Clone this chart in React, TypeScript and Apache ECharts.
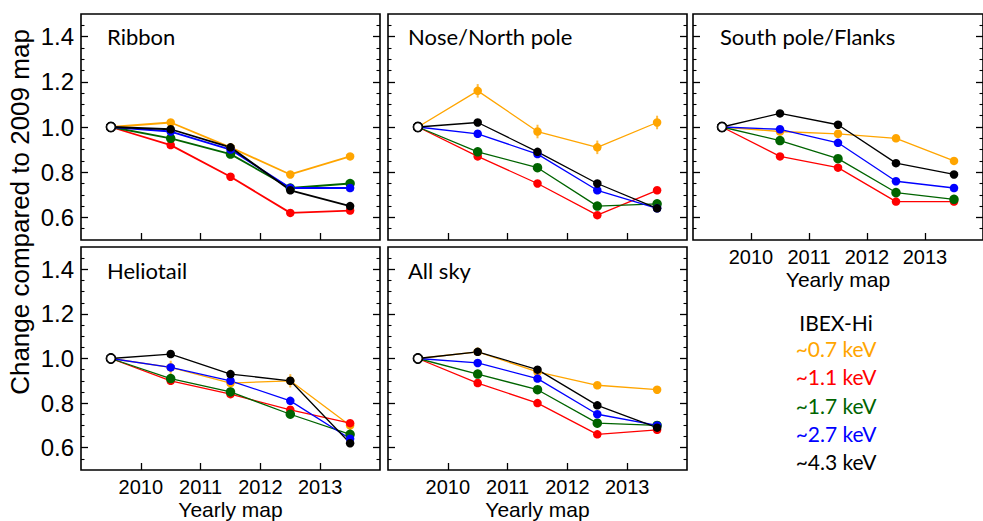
import React, { useEffect, useRef } from "react";
import * as echarts from "echarts";

// ---- data ----
const years = [2009.5, 2010.5, 2011.5, 2012.5, 2013.5];
const xTickValues = [2010, 2011, 2012, 2013];
const yTickValues = [0.6, 0.8, 1.0, 1.2, 1.4];
const yMinorTickValues = [0.55, 0.65, 0.7, 0.75, 0.85, 0.9, 0.95, 1.05, 1.1, 1.15, 1.25, 1.3, 1.35, 1.45];
const energyLabels = ["~0.7 keV", "~1.1 keV", "~1.7 keV", "~2.7 keV", "~4.3 keV"];
const energyColors = ["#FFA500", "#FF0000", "#006400", "#0000FF", "#000000"];
const panelNames = ["Ribbon", "Nose/North pole", "South pole/Flanks", "Heliotail", "All sky"];

// values per energy (0.7, 1.1, 1.7, 2.7, 4.3 keV)
const ribbonValues = [
  [1.0, 1.02, 0.91, 0.79, 0.87],
  [1.0, 0.92, 0.78, 0.62, 0.63],
  [1.0, 0.95, 0.88, 0.73, 0.75],
  [1.0, 0.98, 0.9, 0.73, 0.73],
  [1.0, 0.99, 0.91, 0.72, 0.65],
];
const noseValues = [
  [1.0, 1.16, 0.98, 0.91, 1.02],
  [1.0, 0.87, 0.75, 0.61, 0.72],
  [1.0, 0.89, 0.82, 0.65, 0.66],
  [1.0, 0.97, 0.88, 0.72, 0.64],
  [1.0, 1.02, 0.89, 0.75, 0.64],
];
const southValues = [
  [1.0, 0.98, 0.97, 0.95, 0.85],
  [1.0, 0.87, 0.82, 0.67, 0.67],
  [1.0, 0.94, 0.86, 0.71, 0.68],
  [1.0, 0.99, 0.93, 0.76, 0.73],
  [1.0, 1.06, 1.01, 0.84, 0.79],
];
const heliotailValues = [
  [1.0, 0.96, 0.89, 0.9, 0.7],
  [1.0, 0.9, 0.84, 0.77, 0.71],
  [1.0, 0.91, 0.85, 0.75, 0.66],
  [1.0, 0.96, 0.9, 0.81, 0.64],
  [1.0, 1.02, 0.93, 0.9, 0.62],
];
const allSkyValues = [
  [1.0, 1.03, 0.94, 0.88, 0.86],
  [1.0, 0.89, 0.8, 0.66, 0.68],
  [1.0, 0.93, 0.86, 0.71, 0.7],
  [1.0, 0.98, 0.91, 0.75, 0.7],
  [1.0, 1.03, 0.95, 0.79, 0.69],
];
// error bars on the ~0.7 keV series
const ribbonErr07 = [0, 0.01, 0.01, 0.01, 0.01];
const noseErr07 = [0, 0.03, 0.03, 0.03, 0.03];
const southErr07 = [0, 0.01, 0.01, 0.01, 0.01];
const heliotailErr07 = [0, 0.03, 0.025, 0.03, 0.02];
const allSkyErr07 = [0, 0.01, 0.01, 0.01, 0.01];

const panelValues = [ribbonValues, noseValues, southValues, heliotailValues, allSkyValues];
const panelErrors = [ribbonErr07, noseErr07, southErr07, heliotailErr07, allSkyErr07];

// ---- layout ----
const grids = [
  { left: 81, top: 14, width: 299, height: 226 },
  { left: 388, top: 14, width: 299, height: 226 },
  { left: 693, top: 14, width: 300, height: 226 },
  { left: 81, top: 247, width: 299, height: 225 },
  { left: 388, top: 247, width: 299, height: 225 },
];
const showXLabels = [false, false, true, true, true];
const showYLabels = [true, false, false, true, false];
const titlePos = [
  [107, 36],
  [408, 36],
  [720, 36],
  [107, 270],
  [408, 270],
];

const SANS = "Liberation Sans";
const HUM = "Lato";

export default function App() {
  const ref = useRef<HTMLDivElement>(null);
  useEffect(() => {
    if (!ref.current) return;
    const chart = echarts.init(ref.current, undefined, { renderer: "svg" });

    const xAxis: any[] = [];
    const yAxis: any[] = [];
    const series: any[] = [];
    const graphic: any[] = [];

    grids.forEach((g, i) => {
      xAxis.push({
        gridIndex: i,
        type: "value",
        min: 2009,
        max: 2014,
        interval: 1,
        axisLine: { show: false },
        splitLine: { show: false },
        axisTick: {
          show: true,
          inside: true,
          length: 7,
          customValues: xTickValues,
          lineStyle: { color: "#000", width: 1.3 },
        },
        axisLabel: {
          show: showXLabels[i],
          customValues: xTickValues,
          formatter: (v: number) => String(Math.round(v)),
          color: "#000",
          fontSize: 20,
          fontFamily: SANS,
          margin: 7,
        },
        name: showXLabels[i] ? "Yearly map" : "",
        nameLocation: "middle",
        nameGap: 29,
        nameTextStyle: { color: "#000", fontSize: 21, fontFamily: SANS },
      });
      const base = yAxis.length;
      (["left", "right"] as const).forEach((pos) => {
        yAxis.push({
          gridIndex: i,
          type: "value",
          position: pos,
          min: 0.5,
          max: 1.5,
          axisLine: { show: false },
          splitLine: { show: false },
          axisTick: {
            show: true,
            inside: true,
            length: 7,
            customValues: yTickValues,
            lineStyle: { color: "#000", width: 1.3 },
          },
          axisLabel: {
            show: pos === "left" && showYLabels[i],
            customValues: yTickValues,
            formatter: (v: number) => v.toFixed(1),
            color: "#000",
            fontSize: 24,
            fontFamily: SANS,
            margin: 7,
          },
        });
        yAxis.push({
          gridIndex: i,
          type: "value",
          position: pos,
          min: 0.5,
          max: 1.5,
          axisLine: { show: false },
          splitLine: { show: false },
          axisTick: {
            show: true,
            inside: true,
            length: 3.5,
            customValues: yMinorTickValues,
            lineStyle: { color: "#000", width: 1.1 },
          },
          axisLabel: { show: false },
        });
      });

      const vals = panelValues[i];
      const errs = panelErrors[i];
      const lw = i === 0 ? 1.8 : 1.3;
      vals.forEach((arr, e) => {
        if (e === 0) {
          series.push({
            type: "custom",
            xAxisIndex: i,
            yAxisIndex: base,
            silent: true,
            data: years.slice(1).map((x, k) => [x, arr[k + 1] - errs[k + 1], arr[k + 1] + errs[k + 1]]),
            encode: { x: 0, y: [1, 2] },
            renderItem: (_p: any, api: any) => {
              const x = api.value(0);
              const a = api.coord([x, api.value(1)]);
              const b = api.coord([x, api.value(2)]);
              return {
                type: "line",
                shape: { x1: a[0], y1: a[1], x2: b[0], y2: b[1] },
                style: { stroke: "rgba(255,165,0,0.75)", lineWidth: 2 },
              };
            },
          });
        }
        series.push({
          type: "line",
          name: energyLabels[e],
          xAxisIndex: i,
          yAxisIndex: base,
          symbol: "circle",
          symbolSize: e === 2 ? 9.5 : 8.5,
          lineStyle: { color: energyColors[e], width: lw },
          itemStyle: { color: energyColors[e] },
          data: years.map((x, k) =>
            k === 0
              ? { value: [x, arr[k]], itemStyle: { color: "#fff", borderColor: "#000", borderWidth: 1.2 } }
              : { value: [x, arr[k]] }
          ),
        });
      });

      graphic.push({
        type: "text",
        x: titlePos[i][0],
        y: titlePos[i][1],
        style: {
          text: panelNames[i],
          fill: "#000",
          fontSize: 22,
          fontFamily: HUM,
          textAlign: "left",
          textVerticalAlign: "middle",
        },
      });
    });

    graphic.push({
      type: "text",
      x: 20,
      y: 212,
      rotation: Math.PI / 2,
      style: {
        text: "Change compared to 2009 map",
        fill: "#000",
        fontSize: 26,
        fontFamily: SANS,
        textAlign: "center",
        textVerticalAlign: "middle",
      },
    });
    graphic.push({
      type: "text",
      x: 836,
      y: 322,
      style: { text: "IBEX-Hi", fill: "#000", fontSize: 21, fontFamily: HUM, textAlign: "center", textVerticalAlign: "middle" },
    });
    energyLabels.forEach((t, e) => {
      graphic.push({
        type: "text",
        x: 836,
        y: 348.5 + e * 28.3,
        style: { text: t, fill: energyColors[e], fontSize: 21, fontFamily: HUM, textAlign: "center", textVerticalAlign: "middle" },
      });
    });

    chart.setOption({
      animation: false,
      backgroundColor: "#fff",
      grid: grids.map((g) => ({ ...g, show: true, borderColor: "#000", borderWidth: 1.6, containLabel: false })),
      xAxis,
      yAxis,
      series,
      graphic,
    });
    return () => chart.dispose();
  }, []);
  return <div ref={ref} style={{ position: "fixed", left: 0, top: 0, width: 983, height: 521 }} />;
}
